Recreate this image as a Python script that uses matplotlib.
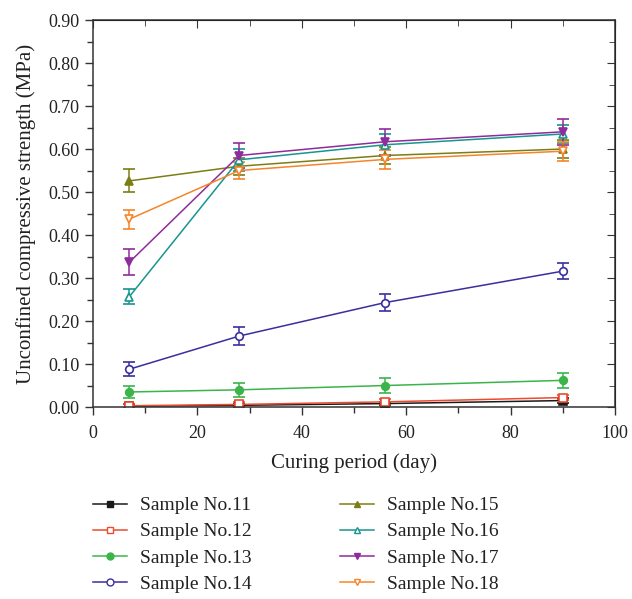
import numpy as np
import matplotlib.pyplot as plt
from matplotlib.ticker import MultipleLocator

plt.rcParams['font.family'] = ['Liberation Serif', 'DejaVu Serif']

# curing ages (days) and UCS (MPa) for each sample
days = [7, 28, 56, 90]
s11 = [0.002, 0.004, 0.008, 0.015]
s12 = [0.003, 0.006, 0.012, 0.022]
s13 = [0.035, 0.040, 0.050, 0.062]
s14 = [0.088, 0.165, 0.243, 0.316]
s15 = [0.526, 0.560, 0.585, 0.600]
s16 = [0.257, 0.575, 0.610, 0.635]
s17 = [0.337, 0.585, 0.617, 0.640]
s18 = [0.437, 0.550, 0.576, 0.595]

# standard deviations (error bars)
e11 = [0.004, 0.004, 0.004, 0.005]
e12 = [0.005, 0.005, 0.006, 0.006]
e13 = [0.015, 0.016, 0.017, 0.018]
e14 = [0.017, 0.020, 0.020, 0.019]
e15 = [0.027, 0.020, 0.020, 0.020]
e16 = [0.017, 0.025, 0.025, 0.022]
e17 = [0.030, 0.030, 0.030, 0.030]
e18 = [0.022, 0.020, 0.022, 0.022]

names = ['Sample No.11', 'Sample No.12', 'Sample No.13', 'Sample No.14',
         'Sample No.15', 'Sample No.16', 'Sample No.17', 'Sample No.18']
series = [s11, s12, s13, s14, s15, s16, s17, s18]
errors = [e11, e12, e13, e14, e15, e16, e17, e18]
colors = ['#1a1a1a', '#ee4a30', '#3bb54a', '#3a2f9c',
          '#7d7d15', '#17958f', '#8f2b9c', '#f5852a']
markers = ['s', 's', 'o', 'o', '^', '^', 'v', 'v']
filled = [True, False, True, False, True, False, True, False]

fig = plt.figure(figsize=(6.32, 5.99), dpi=100)
ax = fig.add_axes([0.147, 0.3205, 0.826, 0.646])

for y, e, c, m, f, n in zip(series, errors, colors, markers, filled, names):
    ax.errorbar(days, y, yerr=e, color=c, marker=m, markersize=5.5,
                markerfacecolor=c if f else 'white', markeredgecolor=c,
                markeredgewidth=1.2, lw=1.1, capsize=4, elinewidth=1.1,
                capthick=1.1, label=n)

ax.set_xlim(0, 100)
ax.set_ylim(0, 0.9)
ax.xaxis.set_major_locator(MultipleLocator(20))
ax.xaxis.set_minor_locator(MultipleLocator(10))
ax.yaxis.set_major_locator(MultipleLocator(0.1))
ax.yaxis.set_minor_locator(MultipleLocator(0.05))
ax.yaxis.set_major_formatter(plt.FuncFormatter(lambda v, p: f'{v:.2f}'))
ax.tick_params(which='both', direction='out', labelsize=13, width=1, colors='#333333',
               labelcolor='#222222')
ax.tick_params(axis='x', which='major', pad=7)
ax.tick_params(which='major', length=6)
ax.tick_params(which='minor', length=4)
for sp in ax.spines.values():
    sp.set_color('#333333')
    sp.set_linewidth(1.1)

# mirrored ticks on top and right pointing inward
axt = ax.secondary_xaxis('top')
axt.xaxis.set_major_locator(MultipleLocator(20))
axt.xaxis.set_minor_locator(MultipleLocator(10))
axt.tick_params(which='both', direction='in', labeltop=False, colors='#333333')
axt.tick_params(which='major', length=6)
axt.tick_params(which='minor', length=4)
axr = ax.secondary_yaxis('right')
axr.yaxis.set_major_locator(MultipleLocator(0.1))
axr.yaxis.set_minor_locator(MultipleLocator(0.05))
axr.tick_params(which='both', direction='in', labelright=False, colors='#333333')
axr.tick_params(which='major', length=6)
axr.tick_params(which='minor', length=4)

ax.set_xlabel('Curing period (day)', fontsize=15, color='#222222', labelpad=8)
ax.set_ylabel('Unconfined compressive strength (MPa)', fontsize=15, color='#222222',
              labelpad=9)

# legend entries without error bars
leg_handles = []
for c, m, f in zip(colors, markers, filled):
    ln, = ax.plot([], [], color=c, marker=m, markersize=5,
                  markerfacecolor=c if f else 'white', markeredgecolor=c,
                  markeredgewidth=1.0, lw=1.1)
    leg_handles.append(ln)
fig.legend(leg_handles, names, ncol=2, frameon=False, fontsize=14,
           loc='upper left', bbox_to_anchor=(0.120, 0.200), handlelength=1.75,
           handletextpad=0.67, columnspacing=4.5, labelspacing=0.44,
           labelcolor='#222222')

fig.savefig('out.png', dpi=100)
